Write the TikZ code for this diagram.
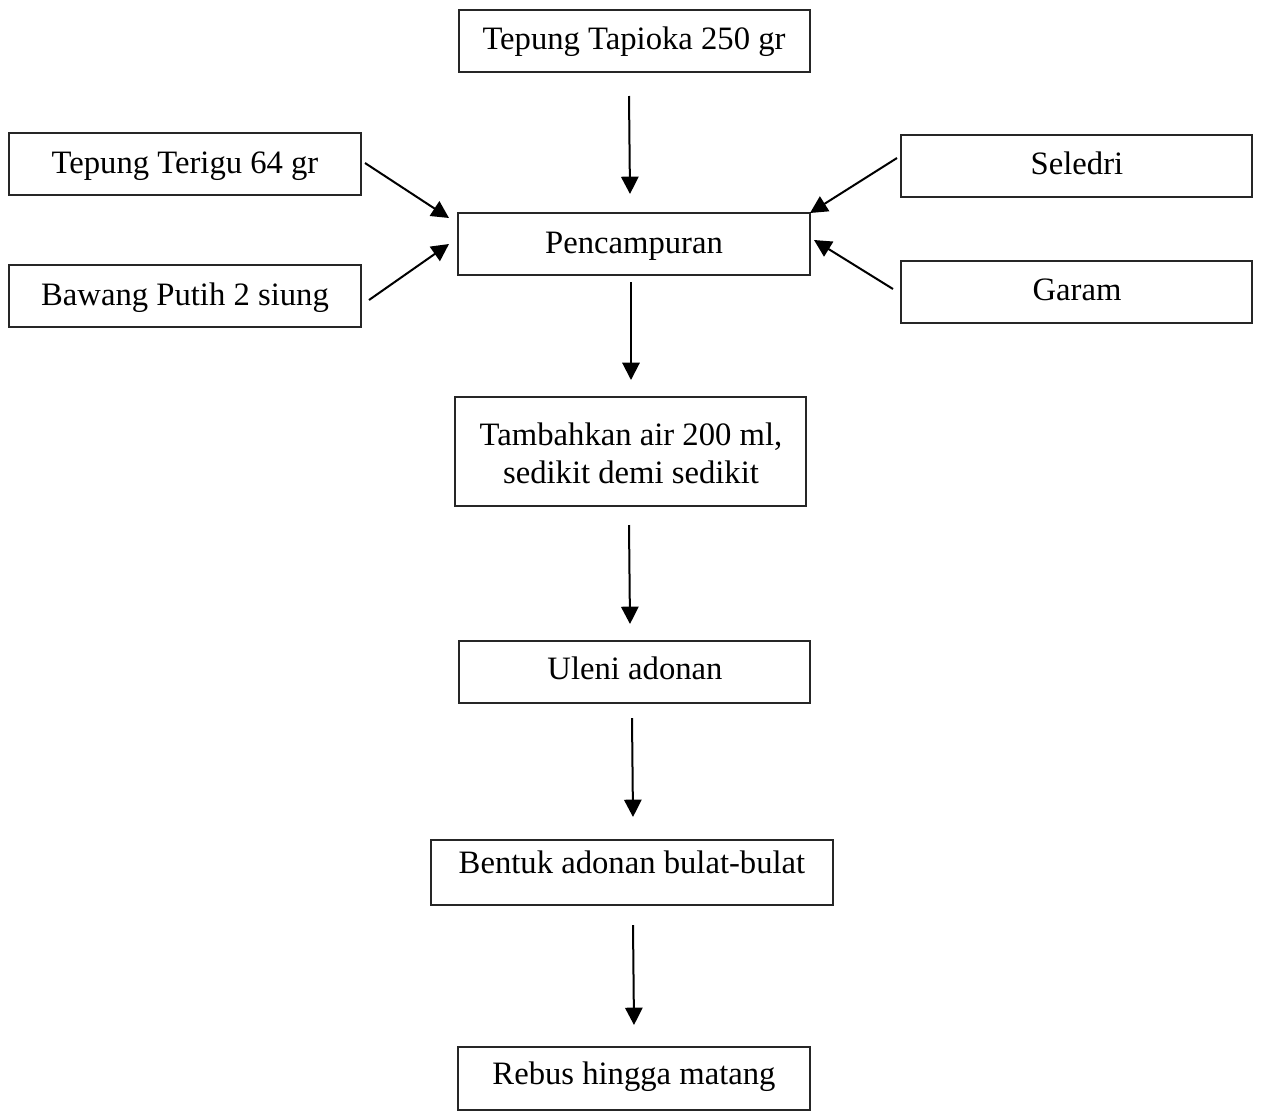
\documentclass[tikz,border=0pt]{standalone}
\usepackage{fontspec}
\setmainfont{Liberation Serif}
\usetikzlibrary{arrows.meta}
\begin{document}
\begin{tikzpicture}[x=0.75pt,y=-0.75pt,
  box/.style={draw=black!85,line width=0.9pt,rectangle,inner sep=0pt},
  lbl/.style={font=\fontsize{24.5}{28.5}\selectfont,align=center,inner sep=0pt,anchor=base},
  arr/.style={line width=1.5pt,-{Triangle[length=13pt,width=13pt]}}]
\useasboundingbox[fill=white] (0,0) rectangle (1261,1111);
% boxes
\node[box,minimum width=351*0.75pt,minimum height=62*0.75pt] (tap) at (634.5,41) {};
\node[box,minimum width=352*0.75pt,minimum height=62*0.75pt] (ter) at (185,164) {};
\node[box,minimum width=352*0.75pt,minimum height=62*0.75pt] (baw) at (185,296) {};
\node[box,minimum width=352*0.75pt,minimum height=62*0.75pt] (pen) at (634,244) {};
\node[box,minimum width=351*0.75pt,minimum height=62*0.75pt] (sel) at (1076.5,166) {};
\node[box,minimum width=351*0.75pt,minimum height=62*0.75pt] (gar) at (1076.5,292) {};
\node[box,minimum width=351*0.75pt,minimum height=109*0.75pt] (tam) at (630.5,451.5) {};
\node[box,minimum width=351*0.75pt,minimum height=62*0.75pt] (ule) at (634.5,672) {};
\node[box,minimum width=402*0.75pt,minimum height=65*0.75pt] (ben) at (632,872.5) {};
\node[box,minimum width=352*0.75pt,minimum height=63*0.75pt] (reb) at (634,1078.5) {};
% labels
\node[lbl] (tapl) at (634,49) {Tepung Tapioka 250 gr};
\node[lbl] (terl) at (185,173) {Tepung Terigu 64 gr};
\node[lbl] (bawl) at (185,305) {Bawang Putih 2 siung};
\node[lbl] (penl) at (634,253) {Pencampuran};
\node[lbl] (sell) at (1077,174) {Seledri};
\node[lbl] (garl) at (1077,300) {Garam};
\node[lbl] (taml) at (631,483) {Tambahkan air 200 ml,\\sedikit demi sedikit};
\node[lbl] (ulel) at (635,679) {Uleni adonan};
\node[lbl] (benl) at (632,873) {Bentuk adonan bulat-bulat};
\node[lbl] (rebl) at (634,1084) {Rebus hingga matang};
% connector end points
\coordinate (a1) at (629,96);  \coordinate (b1) at (630,194);
\coordinate (a2) at (365,163); \coordinate (b2) at (449,218);
\coordinate (a3) at (369,300); \coordinate (b3) at (449,244);
\coordinate (a4) at (897,158); \coordinate (b4) at (810,213);
\coordinate (a5) at (893,289); \coordinate (b5) at (814,240);
\coordinate (a6) at (631,282); \coordinate (b6) at (631,380);
\coordinate (a7) at (629,525); \coordinate (b7) at (630,624);
\coordinate (a8) at (632,718); \coordinate (b8) at (633,817);
\coordinate (a9) at (633,925); \coordinate (b9) at (634,1025);
\foreach \i in {1,...,9} {\draw[arr] (a\i) -- (b\i);}
\end{tikzpicture}
\end{document}
